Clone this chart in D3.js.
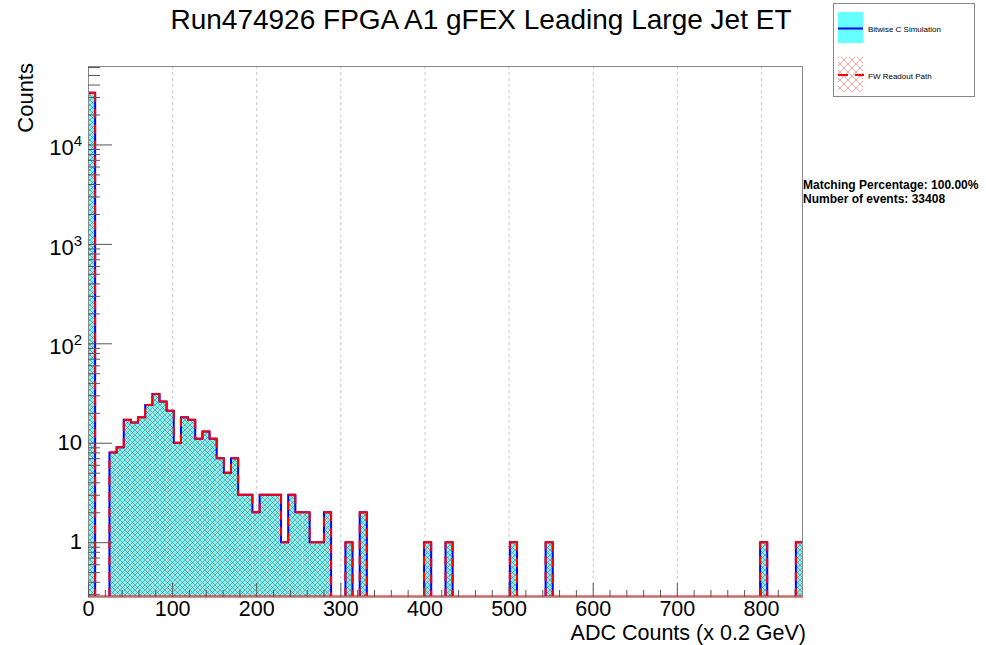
<!DOCTYPE html>
<html>
<head>
<meta charset="utf-8">
<script src="https://cdn.jsdelivr.net/npm/d3@7"></script>
<style>
  body { margin: 0; background: #fff; }
  svg { display: block; }
  text { font-family: "Liberation Sans", Arial, Helvetica, sans-serif; fill: #000; }
</style>
</head>
<body>
<div id="chart"></div>
<script>
// histogram binning (100 bins of 8.5 ADC counts)
var binLow = 0, binHigh = 850, binCount = 100;

// bitwise C simulation counts per bin
var bitwiseCounts = [
    33101, 0, 0, 8, 9, 17, 16, 18, 24, 31,
    26, 21, 10, 18, 17, 11, 13, 11, 7, 5,
    7, 3, 3, 2, 3, 3, 3, 1, 3, 2,
    2, 1, 1, 2, 0, 0, 1, 0, 2, 0,
    0, 0, 0, 0, 0, 0, 0, 1, 0, 0,
    1, 0, 0, 0, 0, 0, 0, 0, 0, 1,
    0, 0, 0, 0, 1, 0, 0, 0, 0, 0,
    0, 0, 0, 0, 0, 0, 0, 0, 0, 0,
    0, 0, 0, 0, 0, 0, 0, 0, 0, 0,
    0, 0, 0, 0, 1, 0, 0, 0, 0, 1
];

// FW readout path counts per bin (100% match)
var readoutCounts = [
    33101, 0, 0, 8, 9, 17, 16, 18, 24, 31,
    26, 21, 10, 18, 17, 11, 13, 11, 7, 5,
    7, 3, 3, 2, 3, 3, 3, 1, 3, 2,
    2, 1, 1, 2, 0, 0, 1, 0, 2, 0,
    0, 0, 0, 0, 0, 0, 0, 1, 0, 0,
    1, 0, 0, 0, 0, 0, 0, 0, 0, 1,
    0, 0, 0, 0, 1, 0, 0, 0, 0, 0,
    0, 0, 0, 0, 0, 0, 0, 0, 0, 0,
    0, 0, 0, 0, 0, 0, 0, 0, 0, 0,
    0, 0, 0, 0, 1, 0, 0, 0, 0, 1
];

var xMajorTicks = [0, 100, 200, 300, 400, 500, 600, 700, 800];
var yMajorTicks = [1, 10, 100, 1000, 10000];
var yDomain = [0.281, 61500];

var titleText = "Run474926 FPGA A1 gFEX Leading Large Jet ET";
var xTitle = "ADC Counts (x 0.2 GeV)";
var yTitle = "Counts";
var legendLabels = ["Bitwise C Simulation", "FW Readout Path"];
var statsLines = ["Matching Percentage: 100.00%", "Number of events: 33408"];

var width = 986, height = 645;
var margin = {left: 88, top: 66, right: 183, bottom: 48};
var x0 = margin.left, x1 = width - margin.right;
var y0 = margin.top, y1 = height - margin.bottom;

var svg = d3.select("#chart").append("svg")
    .attr("width", width)
    .attr("height", height);

var x = d3.scaleLinear().domain([binLow, binHigh]).range([x0, x1]);
var y = d3.scaleLog().domain(yDomain).range([y1, y0]);
var binW = (binHigh - binLow) / binCount;

var defs = svg.append("defs");
defs.append("clipPath").attr("id", "frameclip")
    .append("rect").attr("x", x0).attr("y", y0).attr("width", x1 - x0).attr("height", y1 - y0);

// cross hatch used for the readout histogram
function hatch(id, size, color, op, sw) {
    var p = defs.append("pattern").attr("id", id)
        .attr("patternUnits", "userSpaceOnUse")
        .attr("width", size).attr("height", size);
    p.append("path")
        .attr("d", "M0,0L" + size + "," + size + "M" + size + ",0L0," + size +
            "M-1,1L1,-1M" + (size - 1) + "," + (size + 1) + "L" + (size + 1) + "," + (size - 1))
        .attr("stroke", color).attr("stroke-opacity", op)
        .attr("stroke-width", sw).attr("fill", "none");
}
hatch("hatchPlot", 5, "#c83c3c", 0.7, 0.75);
hatch("hatchLegend", 8, "#ff0000", 0.45, 0.8);

// grid (vertical only)
svg.append("g").selectAll("line")
    .data(xMajorTicks.filter(function(d){ return d > 0; }))
    .enter().append("line")
    .attr("x1", function(d){ return x(d) + 0.5; })
    .attr("x2", function(d){ return x(d) + 0.5; })
    .attr("y1", y0).attr("y2", y1)
    .attr("stroke", "#c8c8c8").attr("stroke-width", 1)
    .attr("stroke-dasharray", "3,3");

var plot = svg.append("g").attr("clip-path", "url(#frameclip)");

function barRects(g, counts, fill) {
    var data = counts.map(function(v, i){ return {i: i, v: v}; })
        .filter(function(d){ return d.v > 0; });
    g.append("g").selectAll("rect")
        .data(data).enter().append("rect")
        .attr("x", function(d){ return x(binLow + d.i * binW); })
        .attr("width", function(d){ return x(binLow + (d.i + 1) * binW) - x(binLow + d.i * binW); })
        .attr("y", function(d){ return y(d.v); })
        .attr("height", function(d){ return y1 - y(d.v); })
        .attr("fill", fill);
}
barRects(plot, bitwiseCounts, "#66ffff");
barRects(plot, readoutCounts, "url(#hatchPlot)");

// step outline points
function stepPoints(counts) {
    var pts = [[binLow, yDomain[0]]];
    counts.forEach(function(v, i){
        var c = v > 0 ? v : yDomain[0];
        pts.push([binLow + i * binW, c]);
        pts.push([binLow + (i + 1) * binW, c]);
    });
    pts.push([binHigh, yDomain[0]]);
    return pts;
}
var line = d3.line()
    .x(function(d){ return x(d[0]); })
    .y(function(d){ return y(d[1]); });

plot.append("path")
    .attr("d", line(stepPoints(bitwiseCounts)))
    .attr("fill", "none").attr("stroke", "#0000ff").attr("stroke-width", 2);

// dashed readout outline, dash pattern restarts on every segment
var rp = stepPoints(readoutCounts);
var segs = d3.pairs(rp).filter(function(s){
    return s[0][0] !== s[1][0] || s[0][1] !== s[1][1];
});
plot.append("g").selectAll("path")
    .data(segs).enter().append("path")
    .attr("d", function(s){ return line(s); })
    .attr("fill", "none").attr("stroke", "#ff0000").attr("stroke-width", 2)
    .attr("stroke-dasharray", "9,7");

// baseline of readout histogram
svg.append("line")
    .attr("x1", x0).attr("x2", x1).attr("y1", y1 - 0.5).attr("y2", y1 - 0.5)
    .attr("stroke", "#ff0000").attr("stroke-width", 2);

// frame
svg.append("rect")
    .attr("x", x0 + 0.5).attr("y", y0 + 0.5)
    .attr("width", x1 - x0 - 1).attr("height", y1 - y0 - 1)
    .attr("fill", "none").attr("stroke", "#888").attr("stroke-width", 1);

// x axis ticks
var xMinor = d3.range(binLow, binHigh + 1, 20).filter(function(d){ return d % 100 !== 0; });
var xAxisMinor = d3.axisBottom(x).tickValues(xMinor).tickSize(-7).tickFormat("");
var xAxisMajor = d3.axisBottom(x).tickValues(xMajorTicks).tickSize(-14).tickPadding(4)
    .tickFormat(d3.format("d"));

var gxm = svg.append("g").attr("transform", "translate(0," + y1 + ")").call(xAxisMinor);
var gx = svg.append("g").attr("transform", "translate(0," + y1 + ")").call(xAxisMajor);
[gxm, gx].forEach(function(g){
    g.select(".domain").remove();
    g.selectAll(".tick line").attr("stroke", "#555");
});
gx.selectAll(".tick text").style("font-size", "21.5px").attr("fill", "#000");

// y axis ticks
var yMinor = [];
[-1, 0, 1, 2, 3, 4].forEach(function(k){
    for (var m = 2; m <= 9; m++) {
        var v = m * Math.pow(10, k);
        if (v >= yDomain[0] && v <= yDomain[1]) yMinor.push(v);
    }
});
var yAxisMinor = d3.axisLeft(y).tickValues(yMinor).tickSize(-12).tickFormat("");
var yAxisMajor = d3.axisLeft(y).tickValues(yMajorTicks).tickSize(-24).tickFormat("");
var gym = svg.append("g").attr("transform", "translate(" + x0 + ",0)").call(yAxisMinor);
var gy = svg.append("g").attr("transform", "translate(" + x0 + ",0)").call(yAxisMajor);
[gym, gy].forEach(function(g){
    g.select(".domain").remove();
    g.selectAll(".tick line").attr("stroke", "#555");
});

// y tick labels with exponents
var ylab = svg.append("g").selectAll("text")
    .data(yMajorTicks).enter().append("text")
    .attr("text-anchor", "end")
    .attr("x", 82)
    .attr("y", function(d){ return y(d) + (d >= 100 ? 11 : 7); })
    .style("font-size", "22px");
ylab.each(function(d){
    var t = d3.select(this);
    var e = Math.round(Math.log10(d));
    if (e < 2) {
        t.text(d3.format("d")(d));
    } else {
        t.append("tspan").text("10");
        t.append("tspan").attr("dy", -9).style("font-size", "15px").text(e);
    }
});

// titles
svg.append("text")
    .attr("x", 481).attr("y", 29)
    .attr("text-anchor", "middle")
    .style("font-size", "28px")
    .text(titleText);

svg.append("text")
    .attr("x", 806).attr("y", 640)
    .attr("text-anchor", "end")
    .style("font-size", "21.5px")
    .text(xTitle);

svg.append("text")
    .attr("transform", "translate(33,63) rotate(-90)")
    .attr("text-anchor", "end")
    .style("font-size", "22px")
    .text(yTitle);

// legend
var lg = svg.append("g");
lg.append("rect")
    .attr("x", 833.5).attr("y", 3.5).attr("width", 141).attr("height", 93)
    .attr("fill", "#fff").attr("stroke", "#888").attr("stroke-width", 1);

lg.append("rect").attr("x", 838).attr("y", 12).attr("width", 25).attr("height", 31)
    .attr("fill", "#66ffff");
lg.append("line").attr("x1", 838).attr("x2", 863).attr("y1", 28.5).attr("y2", 28.5)
    .attr("stroke", "#0000ff").attr("stroke-width", 2);

lg.append("rect").attr("x", 838).attr("y", 57).attr("width", 25).attr("height", 35)
    .attr("fill", "url(#hatchLegend)");
lg.append("line").attr("x1", 838).attr("x2", 864).attr("y1", 75).attr("y2", 75)
    .attr("stroke", "#ff0000").attr("stroke-width", 2).attr("stroke-dasharray", "10,7");

lg.selectAll("text.lab")
    .data(legendLabels).enter().append("text")
    .attr("class", "lab")
    .attr("x", 868)
    .attr("y", function(d, i){ return i === 0 ? 32 : 79; })
    .style("font-size", "8px")
    .text(function(d){ return d; });

// stats
svg.append("g").selectAll("text")
    .data(statsLines).enter().append("text")
    .attr("x", 803)
    .attr("y", function(d, i){ return 189 + i * 14; })
    .style("font-size", "12px").style("font-weight", "bold")
    .text(function(d){ return d; });
</script>
</body>
</html>
